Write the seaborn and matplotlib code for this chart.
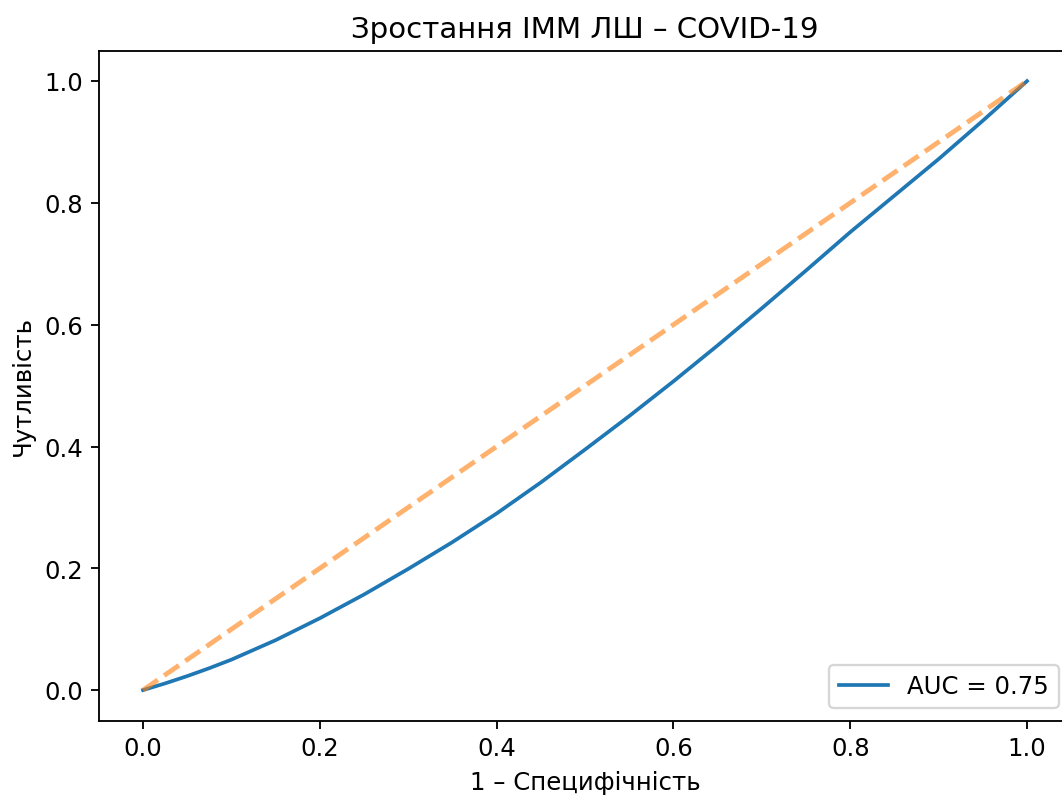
import matplotlib
matplotlib.use('Agg')

import matplotlib.pyplot as plt
import seaborn as sns
import pandas as pd

# ===== DATA =====
fpr = [0.0, 0.025, 0.05, 0.075, 0.10, 0.15, 0.20, 0.25, 0.30, 0.35, 0.40, 0.45, 0.50,
       0.55, 0.60, 0.65, 0.70, 0.75, 0.80, 0.85, 0.90, 0.95, 1.0]
tpr = [0.0, 0.011, 0.023, 0.036, 0.050, 0.082, 0.118, 0.157, 0.199, 0.243, 0.290, 0.341, 0.395,
       0.450, 0.507, 0.566, 0.627, 0.689, 0.752, 0.812, 0.872, 0.935, 1.0]
diag = [0.0, 1.0]
auc_label = "AUC = 0.75"

title = "Зростання ІММ ЛШ – COVID-19"
xlabel = "1 – Специфічність"
ylabel = "Чутливість"

roc = pd.DataFrame({"fpr": fpr, "tpr": tpr})
ref = pd.DataFrame({"x": diag, "y": diag})

# ===== PLOT =====
plt.rcParams.update({
    "font.size": 10.6,
    "lines.solid_joinstyle": "round",
})

fig = plt.figure(figsize=(6.4, 4.8), dpi=166)
ax = fig.add_axes([98.8 / 1062, 0.0947, 972 / 1062, 0.9354 - 0.0947])

sns.lineplot(data=roc, x="fpr", y="tpr", ax=ax, color="#1f77b4",
             linewidth=1.6, label=auc_label, sort=False)
sns.lineplot(data=ref, x="x", y="y", ax=ax, color="#ff7f0e",
             linestyle="--", linewidth=2.1, alpha=0.6, sort=False)

ax.set_xlim(-0.05, 1.05)
ax.set_ylim(-0.05, 1.05)
ax.set_title(title, fontsize=12.7)
ax.set_xlabel(xlabel)
ax.set_ylabel(ylabel)
ax.legend(loc="lower right")

fig.savefig("out.png", dpi=166)
plt.close()
